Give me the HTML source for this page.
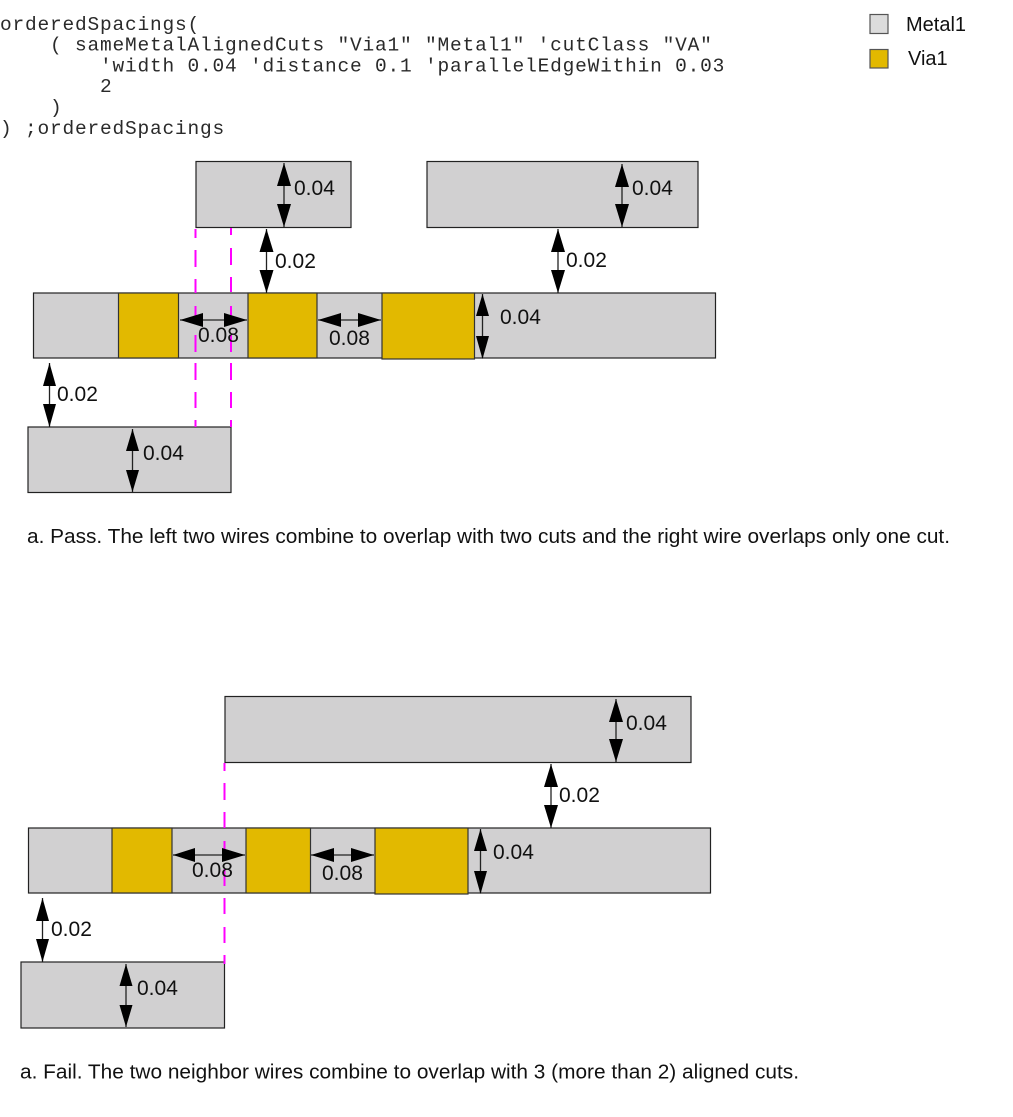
<!DOCTYPE html>
<html><head><meta charset="utf-8"><style>
html,body{margin:0;padding:0;background:#fff}
svg{display:block}
.m{font-family:"Liberation Mono",monospace;font-size:19.5px;letter-spacing:.8px;fill:#2a2a2a}
.s{font-family:"Liberation Sans",sans-serif;font-size:20px;fill:#111}
.n{font-family:"Liberation Sans",sans-serif;font-size:21px;fill:#111}
.g{fill:#d1d0d1;stroke:#222;stroke-width:1.2}
.v{fill:#e2b900;stroke:#333;stroke-width:1.2}
.d{stroke:#f0f;stroke-width:2;fill:none}
.a{fill:#000}
.l{stroke:#222;stroke-width:1.3}
</style></head><body>
<svg width="1013" height="1117" viewBox="0 0 1013 1117" xmlns="http://www.w3.org/2000/svg">
<text class="m" x="0" y="30" xml:space="preserve">orderedSpacings(</text>
<text class="m" x="50" y="50.5" xml:space="preserve">( sameMetalAlignedCuts "Via1" "Metal1" 'cutClass "VA"</text>
<text class="m" x="100" y="71.5" xml:space="preserve">'width 0.04 'distance 0.1 'parallelEdgeWithin 0.03</text>
<text class="m" x="100" y="92">2</text>
<text class="m" x="50" y="113">)</text>
<text class="m" x="0" y="134" xml:space="preserve">) ;orderedSpacings</text>

<rect x="870" y="14.5" width="18" height="19" fill="#dcdcdc" stroke="#555" stroke-width="1.2"/>
<rect x="870" y="49.5" width="18" height="18.5" fill="#e2b900" stroke="#555" stroke-width="1.2"/>
<text class="s" x="906" y="31">Metal1</text>
<text class="s" x="908" y="65">Via1</text>

<!-- Pass -->
<rect class="g" x="196" y="161.5" width="155" height="66"/>
<rect class="g" x="427" y="161.5" width="271" height="66"/>
<rect class="g" x="33.5" y="293" width="682" height="65"/>
<rect class="v" x="118.5" y="293" width="60" height="65"/>
<rect class="v" x="248" y="293" width="69" height="65"/>
<rect class="v" x="382" y="293" width="92.5" height="66"/>
<rect class="g" x="28" y="427" width="203" height="65.5"/>
<path class="d" d="M195.500 229V238M195.500 250V267M195.500 279V293M195.500 306V322M195.500 335V352M195.500 363V380M195.500 392V408M195.500 420V427"/>
<path class="d" d="M231 228V235M231 248V265M231 277V292M231 306V322M231 335V352M231 363V380M231 392V408M231 420V427"/>

<line class="l" x1="284" y1="163" x2="284" y2="227"/><polygon class="a" points="284,163 277,186 291,186"/><polygon class="a" points="284,227 277,204 291,204"/>
<line class="l" x1="622" y1="164" x2="622" y2="227"/><polygon class="a" points="622,164 615,187 629,187"/><polygon class="a" points="622,227 615,204 629,204"/>
<line class="l" x1="266.5" y1="229" x2="266.5" y2="293"/><polygon class="a" points="266.5,229 259.5,252 273.5,252"/><polygon class="a" points="266.5,293 259.5,270 273.5,270"/>
<line class="l" x1="558" y1="229" x2="558" y2="293"/><polygon class="a" points="558,229 551,252 565,252"/><polygon class="a" points="558,293 551,270 565,270"/>
<line class="l" x1="482.5" y1="294" x2="482.5" y2="358"/><polygon class="a" points="482.5,294 476,316 489,316"/><polygon class="a" points="482.5,359 476,336 489,336"/>
<line class="l" x1="49.5" y1="363" x2="49.5" y2="427"/><polygon class="a" points="49.5,363 43,386 56,386"/><polygon class="a" points="49.5,427 43,404 56,404"/>
<line class="l" x1="132.5" y1="429" x2="132.5" y2="492"/><polygon class="a" points="132.5,429 126,451 139,451"/><polygon class="a" points="132.5,492 126,470 139,470"/>
<line class="l" x1="180" y1="320" x2="247" y2="320"/><polygon class="a" points="180,320 203,313 203,327"/><polygon class="a" points="247,320 224,313 224,327"/>
<line class="l" x1="318" y1="320" x2="381" y2="320"/><polygon class="a" points="318,320 341,313 341,327"/><polygon class="a" points="381,320 358,313 358,327"/>

<text class="n" x="294" y="195">0.04</text>
<text class="n" x="632" y="195">0.04</text>
<text class="n" x="275" y="268">0.02</text>
<text class="n" x="566" y="267">0.02</text>
<text class="n" x="500" y="324">0.04</text>
<text class="n" x="57" y="401">0.02</text>
<text class="n" x="143" y="460">0.04</text>
<text class="n" x="198" y="342">0.08</text>
<text class="n" x="329" y="345">0.08</text>
<text class="s" x="27" y="543" textLength="923" lengthAdjust="spacingAndGlyphs">a. Pass. The left two wires combine to overlap with two cuts and the right wire overlaps only one cut.</text>

<!-- Fail -->
<rect class="g" x="225" y="696.5" width="466" height="66"/>
<rect class="g" x="28.5" y="828" width="682" height="65"/>
<rect class="v" x="112" y="828" width="60" height="65"/>
<rect class="v" x="246" y="828" width="64.5" height="65"/>
<rect class="v" x="375" y="828" width="93" height="66"/>
<rect class="g" x="21" y="962" width="203.5" height="66"/>
<path class="d" d="M224.500 763V771M224.500 783V800M224.500 812V828M224.500 841V857M224.500 869V886M224.500 898V914M224.500 927V943M224.500 955V964"/>

<line class="l" x1="616" y1="699" x2="616" y2="762"/><polygon class="a" points="616,699 609,722 623,722"/><polygon class="a" points="616,762 609,739 623,739"/>
<line class="l" x1="551" y1="764" x2="551" y2="828"/><polygon class="a" points="551,764 544,787 558,787"/><polygon class="a" points="551,828 544,805 558,805"/>
<line class="l" x1="480.5" y1="829" x2="480.5" y2="893"/><polygon class="a" points="480.5,829 474,851 487,851"/><polygon class="a" points="480.5,894 474,871 487,871"/>
<line class="l" x1="42.5" y1="898" x2="42.5" y2="962"/><polygon class="a" points="42.5,898 36,921 49,921"/><polygon class="a" points="42.5,962 36,939 49,939"/>
<line class="l" x1="126" y1="964" x2="126" y2="1027"/><polygon class="a" points="126,964 119.5,986 132.5,986"/><polygon class="a" points="126,1027 119.5,1005 132.5,1005"/>
<line class="l" x1="173" y1="855" x2="245" y2="855"/><polygon class="a" points="173,855 195,848 195,862"/><polygon class="a" points="245,855 222,848 222,862"/>
<line class="l" x1="311" y1="855" x2="374" y2="855"/><polygon class="a" points="311,855 334,848 334,862"/><polygon class="a" points="374,855 351,848 351,862"/>

<text class="n" x="626" y="730">0.04</text>
<text class="n" x="559" y="802">0.02</text>
<text class="n" x="493" y="859">0.04</text>
<text class="n" x="51" y="936">0.02</text>
<text class="n" x="137" y="995">0.04</text>
<text class="n" x="192" y="877">0.08</text>
<text class="n" x="322" y="880">0.08</text>
<text class="s" x="20" y="1078.5" textLength="779" lengthAdjust="spacingAndGlyphs">a. Fail. The two neighbor wires combine to overlap with 3 (more than 2) aligned cuts.</text>
</svg>
</body></html>
